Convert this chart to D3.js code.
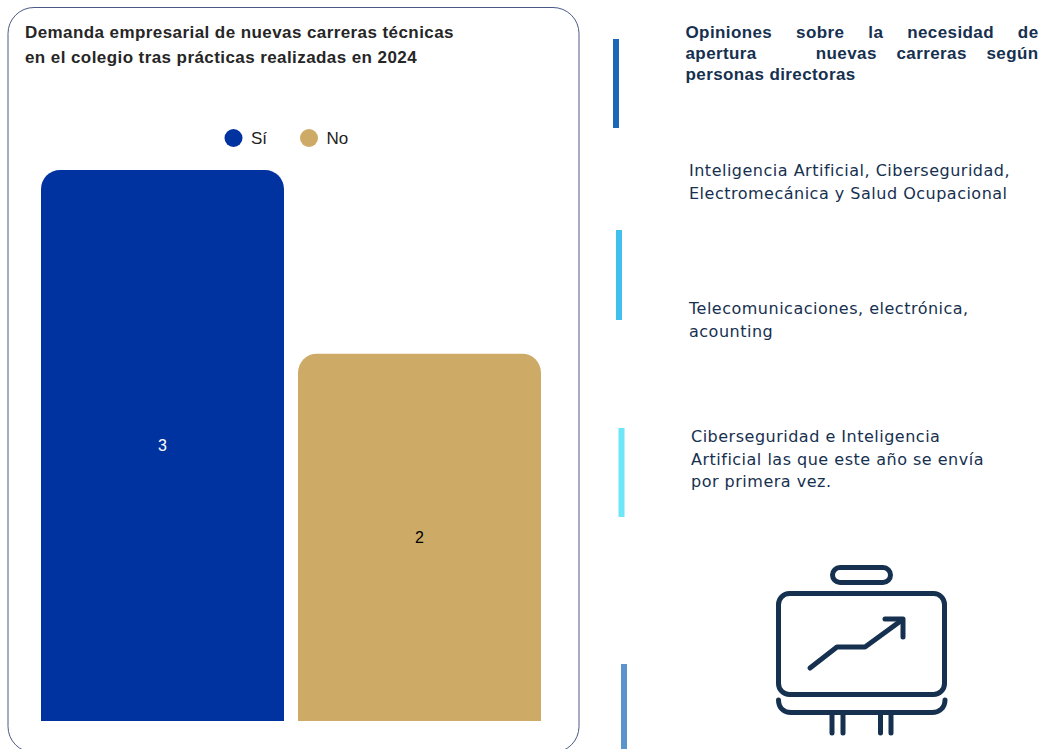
<!DOCTYPE html>
<html lang="es">
<head>
<meta charset="utf-8">
<script src="https://cdn.jsdelivr.net/npm/d3@7"></script>
<style>
  html, body { margin: 0; padding: 0; background: #fff; }
  svg { display: block; }
  text { font-family: "Liberation Sans", Arial, sans-serif; }
  .note { font-family: "DejaVu Sans", sans-serif; font-size: 16px; fill: #16304f; letter-spacing: 0.5px; }
</style>
</head>
<body>
<svg id="chart" width="1042" height="749"></svg>
<script>
// chart values
const categories = ['Sí', 'No'];
const answers = [3, 2];
const barColors = ['#0033a0', '#cdaa66'];
const labelColors = ['#ffffff', '#000000'];
const titleLines = [
  'Demanda empresarial de nuevas carreras técnicas',
  'en el colegio tras prácticas realizadas en 2024'
];

// side panel
const headingLines = ['Opiniones sobre la necesidad de', 'apertura   nuevas carreras según', 'personas directoras'];
const notes = [
  { x: 689, y: 176, lines: ['Inteligencia Artificial, Ciberseguridad,', 'Electromecánica y Salud Ocupacional'] },
  { x: 689, y: 314, lines: ['Telecomunicaciones, electrónica,', 'acounting'] },
  { x: 691, y: 442, lines: ['Ciberseguridad e Inteligencia', 'Artificial las que este año se envía', 'por primera vez.'] }
];
const sideBars = [
  { x: 613, y: 39, h: 89, color: '#1a66b8' },
  { x: 616, y: 230, h: 90, color: '#3fc0ee' },
  { x: 618.5, y: 428, h: 89, color: '#6fe5f8' },
  { x: 621, y: 664, h: 90, color: '#5b93cc' }
];

const svg = d3.select('#chart');

svg.append('rect')
  .attr('x', 8).attr('y', 7.5)
  .attr('width', 571).attr('height', 745)
  .attr('rx', 26)
  .attr('fill', 'none')
  .attr('stroke', '#4a5a85')
  .attr('stroke-width', 1);

svg.append('g').selectAll('text')
  .data(titleLines)
  .join('text')
  .attr('x', 25)
  .attr('y', (d, i) => 38 + i * 25)
  .attr('font-size', 17)
  .attr('font-weight', 700)
  .attr('letter-spacing', 0.42)
  .attr('fill', '#262626')
  .text(d => d);

// scales, the axes themselves are not shown in the original
const x = d3.scaleBand().domain(categories).range([41, 541]).paddingInner(0.0545).paddingOuter(0);
const y = d3.scaleLinear().domain([0, 3]).range([721, 170]);

// bar with only the top corners rounded
function topRounded(x0, y0, w, h, r) {
  const p = d3.path();
  p.moveTo(x0, y0 + h);
  p.lineTo(x0, y0 + r);
  p.arcTo(x0, y0, x0 + r, y0, r);
  p.lineTo(x0 + w - r, y0);
  p.arcTo(x0 + w, y0, x0 + w, y0 + r, r);
  p.lineTo(x0 + w, y0 + h);
  p.closePath();
  return p.toString();
}

const bars = svg.append('g').selectAll('g')
  .data(categories)
  .join('g');

bars.append('path')
  .attr('d', (d, i) => topRounded(x(d), y(answers[i]), x.bandwidth(), y(0) - y(answers[i]), 19))
  .attr('fill', (d, i) => barColors[i]);

bars.append('text')
  .attr('x', d => x(d) + x.bandwidth() / 2)
  .attr('y', (d, i) => (y(answers[i]) + y(0)) / 2)
  .attr('dy', '0.35em')
  .attr('text-anchor', 'middle')
  .attr('font-size', 16)
  .attr('fill', (d, i) => labelColors[i])
  .text((d, i) => answers[i]);

// legend
const legendX = [233.5, 309];
const legend = svg.append('g').selectAll('g')
  .data(categories)
  .join('g')
  .attr('transform', (d, i) => `translate(${legendX[i]},138)`);

legend.append('circle').attr('r', 9).attr('fill', (d, i) => barColors[i]);
legend.append('text')
  .attr('x', 17.5)
  .attr('dy', '0.35em')
  .attr('font-size', 17)
  .attr('fill', '#222')
  .text(d => d);

// side panel
svg.append('g').selectAll('rect')
  .data(sideBars)
  .join('rect')
  .attr('x', d => d.x).attr('y', d => d.y)
  .attr('width', 6).attr('height', d => d.h)
  .attr('fill', d => d.color);

// first two lines are justified to the column width
const headingWidth = 353;
svg.append('g').selectAll('text')
  .data(headingLines)
  .join('text')
  .attr('x', 685.5)
  .attr('y', (d, i) => 37.5 + i * 21)
  .attr('font-size', 17)
  .attr('font-weight', 700)
  .attr('letter-spacing', 0.4)
  .attr('fill', '#16304f')
  .style('white-space', 'pre')
  .text(d => d)
  .each(function (d, i) {
    if (i === headingLines.length - 1) { return; }
    const gaps = d.split(' ').length - 1;
    const free = headingWidth - this.getComputedTextLength();
    d3.select(this).style('word-spacing', (free / gaps) + 'px');
  });

notes.forEach(note => {
  svg.append('g').selectAll('text')
    .data(note.lines)
    .join('text')
    .attr('class', 'note')
    .attr('x', note.x)
    .attr('y', (d, i) => note.y + i * 22.5)
    .text(d => d);
});

// presentation board icon
const icon = svg.append('g')
  .attr('fill', 'none')
  .attr('stroke', '#16304f')
  .attr('stroke-width', 5)
  .attr('stroke-linecap', 'round')
  .attr('stroke-linejoin', 'round');

icon.append('rect').attr('x', 832.5).attr('y', 567.5).attr('width', 58).attr('height', 15).attr('rx', 7.5);
icon.append('rect').attr('x', 778.5).attr('y', 593.5).attr('width', 166).attr('height', 101).attr('rx', 11);
icon.append('path').attr('d', 'M810,668 L837,647 L865,647 L902,620');
icon.append('path').attr('d', 'M885,619 L903,619 L903,637');
icon.append('path').attr('d', 'M778.5,700 C778.5,708 784,712.5 791,712.5 L932,712.5 C939,712.5 945,708 945,700');
icon.append('path').attr('d', 'M832,713 V733 M843,713 V733 M880.5,713 V733 M891,713 V733');
</script>
</body>
</html>
